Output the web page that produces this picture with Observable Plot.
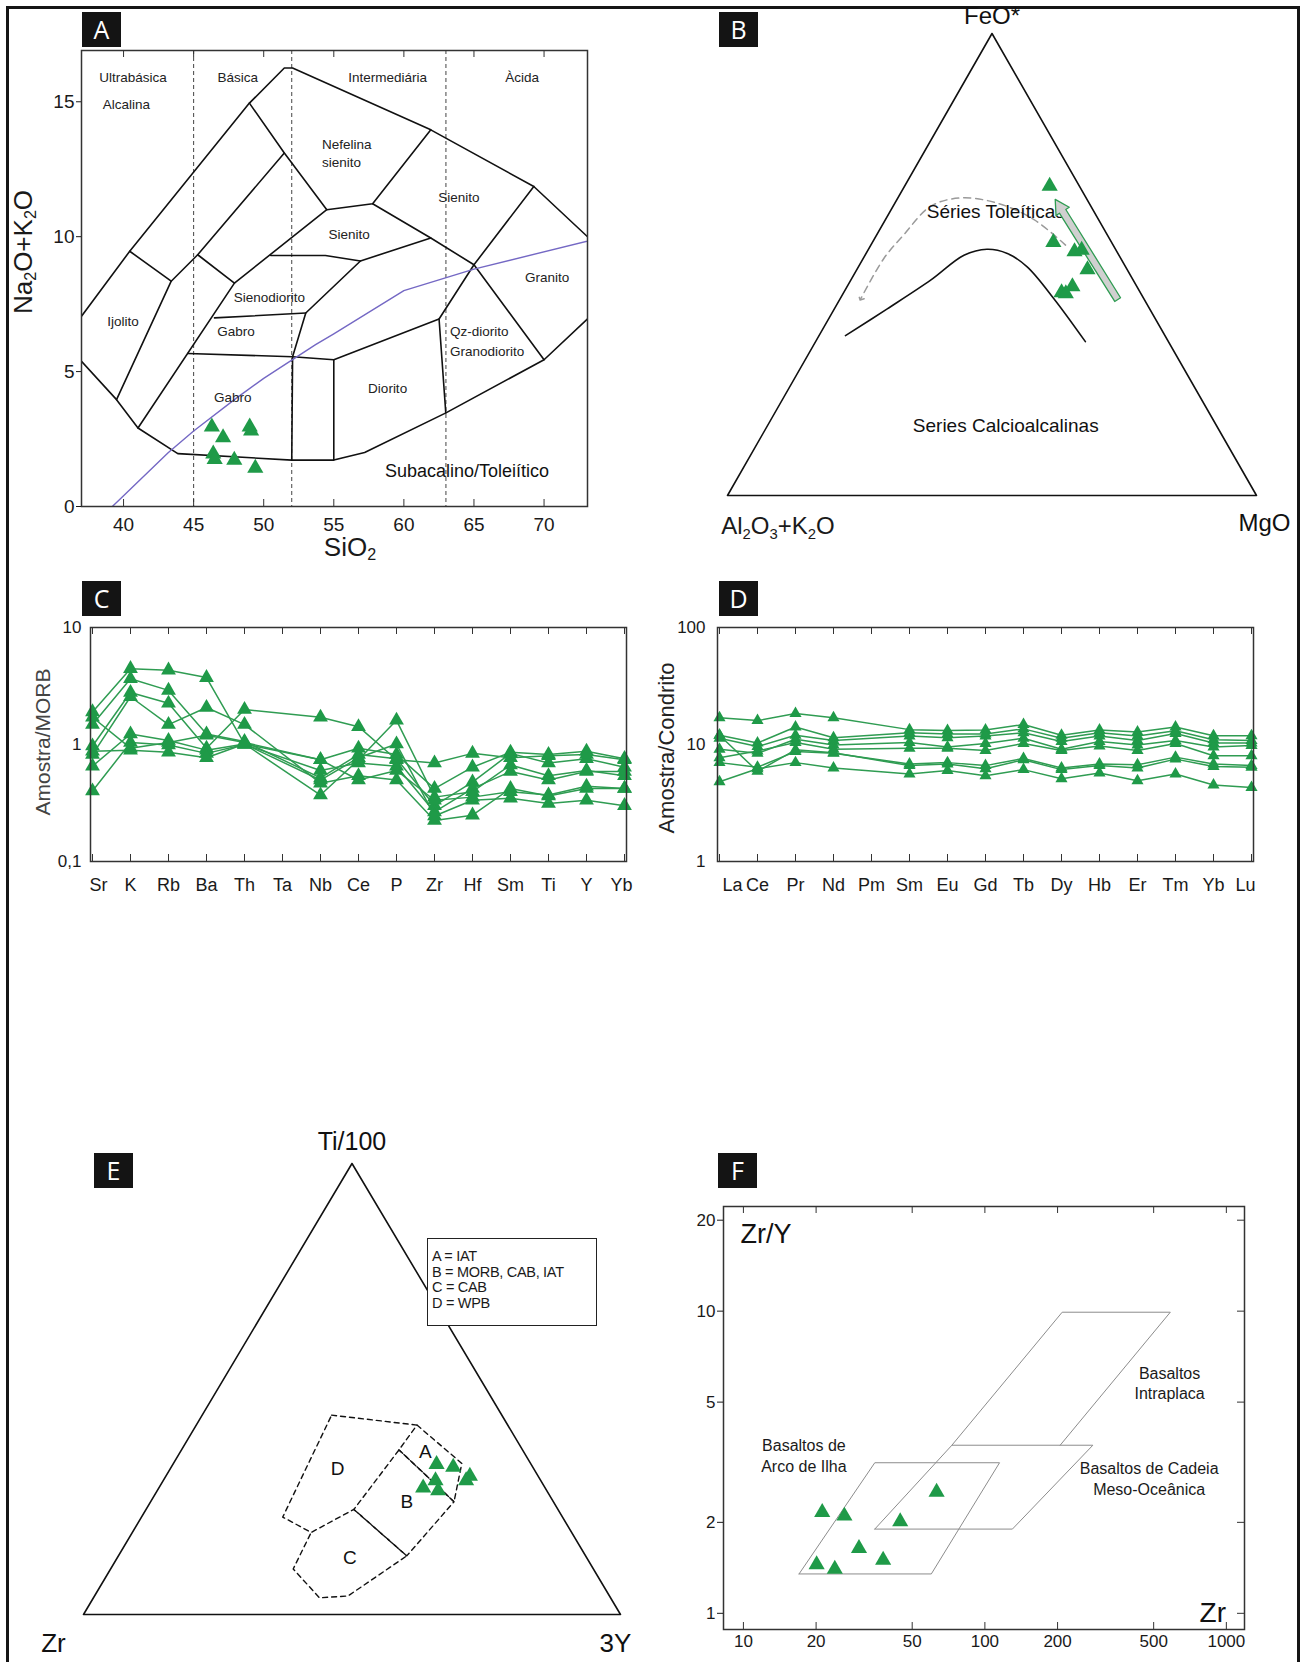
<!DOCTYPE html>
<html><head><meta charset="utf-8">
<script src="https://cdn.jsdelivr.net/npm/d3@7"></script>
<script src="https://cdn.jsdelivr.net/npm/@observablehq/plot@0.6"></script>
<style>
body{margin:0;background:#fff;}
#page{position:relative;width:1304px;height:1662px;overflow:hidden;background:#fff;font-family:'Liberation Sans',Arial,sans-serif;}
#page svg{position:absolute;overflow:visible;}
.tag{position:absolute;background:#141414;color:#fff;font-family:'Open Sans',sans-serif;font-size:25px;width:39px;height:35px;line-height:35px;text-align:center;}
.lbl{position:absolute;white-space:nowrap;color:#1a1a1a;transform:translate(-50%,-50%);line-height:1;}
.lbl sub{font-size:0.62em;vertical-align:-0.28em;}
#border{position:absolute;left:6px;top:6px;width:1288px;height:1700px;border:3px solid #151515;}
#legendE{position:absolute;left:427px;top:1238px;width:170px;height:88px;border:1.5px solid #222;background:#fff;font-size:14.5px;line-height:15.5px;padding:10px 0 0 4px;box-sizing:border-box;color:#1a1a1a;letter-spacing:-0.3px;}
</style></head><body><div id="page"><div id="border"></div></div>
<script>
const FONT = "'Liberation Sans', Arial, sans-serif";
const GREEN = "#1f9a48";
const LGREEN = "#2f9c52";
const page = document.getElementById("page");

// ================= Panel A : TAS =================
const tasTicksX = [40,45,50,55,60,65,70];
const tasTicksY = [0,5,10,15];
const silicaDivisions = [45,52,63];
const tasPolylines = [
 [[37.0,5.38],[39.5,3.96],[41.03,2.91],[43.87,1.96],[52.0,1.72],[55.0,1.72],[57.2,2.0],[63.0,3.47],[70.0,5.44],[73.2,7.0]],
 [[37.0,7.05],[40.44,9.46],[48.98,14.95],[51.47,16.25],[52.06,16.25],[61.92,13.96],[69.27,11.86],[73.2,9.95]],
 [[40.44,9.46],[43.4,8.35],[39.5,3.96]],
 [[43.4,8.35],[45.29,9.33],[51.47,13.1]],
 [[45.29,9.33],[47.91,8.28]],
 [[41.03,2.91],[47.91,8.28],[54.5,11.0]],
 [[48.98,14.95],[51.47,13.1],[54.5,11.0],[57.77,11.22],[61.92,13.96]],
 [[57.77,11.22],[61.92,9.95],[65.0,8.96],[70.0,5.44]],
 [[69.27,11.86],[65.0,8.96],[62.51,6.95],[62.99,3.47]],
 [[50.5,9.3],[54.4,9.3],[56.9,9.1],[61.92,9.95]],
 [[56.9,9.1],[53.0,7.17],[52.06,5.55],[52.0,1.72]],
 [[46.49,6.99],[53.0,7.17]],
 [[44.59,5.67],[52.06,5.55],[55.0,5.44],[62.51,6.95]],
 [[55.0,5.44],[55.0,1.72]]
];
const irvineSiO2 = [39.2,40,43.2,45,48,50,53.7,55,60,65,74.4];
const irvineAlk  = [0,0.4,2,2.8,4,4.75,6,6.4,8,8.8,10];
const tasFieldNames = ["Ultrabásica","Básica","Intermediária","Àcida","Alcalina","Sienito","Sienito","Granito","Diorito","Ijolito","Sienodiorito","Gabro","Gabro"];
const tasFieldX = [40.68,48.14,58.84,68.44,40.2,63.93,56.1,70.22,58.84,39.96,50.4,48.03,47.79];
const tasFieldY = [15.88,15.88,15.88,15.88,14.9,11.43,10.07,8.47,4.36,6.86,7.73,6.49,4.03];
const tasLeftNames = ["Nefelina","sienito","Qz-diorito","Granodiorito"];
const tasLeftX = [54.15,54.15,63.29,63.29];
const tasLeftY = [13.4,12.75,6.49,5.75];
const sampleSiO2 = [46.3,47.1,49.0,49.1,46.4,46.5,47.9,49.4];
const sampleAlk  = [2.95,2.55,2.95,2.8,1.95,1.75,1.72,1.42];

const hA = 456;
const plotA = Plot.plot({
  width:640, height:580, marginLeft:81, marginRight:53, marginTop:50, marginBottom:74,
  x:{domain:[37,73.1]}, y:{domain:[0,16.9]},
  style:{fontFamily:FONT, fontSize:"19px", color:"#1a1a1a", background:"transparent"},
  marks:[
    Plot.ruleX(silicaDivisions,{x:d=>d, stroke:"#444", strokeWidth:1, strokeDasharray:"4,3"}),
    ...tasPolylines.map(pl => Plot.line(pl,{x:d=>d[0], y:d=>d[1], stroke:"#111", strokeWidth:1.6, clip:true})),
    Plot.line(irvineSiO2.map((s,i)=>i),{x:i=>irvineSiO2[i], y:i=>irvineAlk[i], stroke:"#7468c4", strokeWidth:1.4, clip:true}),
    Plot.text(tasFieldNames.map((n,i)=>i),{x:i=>tasFieldX[i], y:i=>tasFieldY[i], text:i=>tasFieldNames[i], fontSize:13.5, fill:"#222"}),
    Plot.text(tasLeftNames.map((n,i)=>i),{x:i=>tasLeftX[i], y:i=>tasLeftY[i], text:i=>tasLeftNames[i], fontSize:13.5, fill:"#222", textAnchor:"start"}),
    Plot.text(["Subacalino/Toleiítico"],{x:()=>64.5, y:()=>1.31, text:d=>d, fontSize:18, fill:"#111"}),
    Plot.dot(sampleSiO2.map((s,i)=>i),{x:i=>sampleSiO2[i], y:i=>sampleAlk[i], symbol:"triangle", r:6, fill:GREEN}),
    Plot.frame({stroke:"#333", strokeWidth:1.5}),
    Plot.tickX(tasTicksX,{x:d=>d, insetTop:hA-7, stroke:"#333"}),
    Plot.tickX(tasTicksX,{x:d=>d, insetBottom:hA-7, stroke:"#333"}),
    Plot.axisX({ticks:tasTicksX, tickSize:0, tickPadding:11, label:null, fontSize:19}),
    Plot.axisY({ticks:tasTicksY, tickSize:5, tickPadding:2, label:null, fontSize:19})
  ]
});
plotA.style.left="0px"; plotA.style.top="0px"; page.appendChild(plotA);

// ================= Panel B : AFM =================
const afmCurveF = [34.6,40.4,46.6,52.0,53.3,52.4,49.5,42.6,33.3];
const afmCurveM = [5.0,10.0,15.1,18.7,22.4,26.7,31.9,40.4,51.0];
const tholTrendF = [54.2,59.7,63.3,64.4,62.6,56.4,51.3,42.6];
const tholTrendM = [36.8,28.1,19.3,11.8,7.1,5.1,3.9,3.9];
const greenArrowF = [42.0,42.8,61.9,62.4,64.1,60.6,61.1,42.0];
const greenArrowM = [52.2,52.9,33.0,33.4,29.9,31.8,32.2,52.2];
const afmSampleF = [67.0,54.8,52.8,53.1,48.9,43.9,45.2,43.7];
const afmSampleM = [27.4,34.2,39.2,40.4,43.6,41.2,42.6,42.1];
const triF = [0,0,100,0];
const triM = [0,100,0,0];
const tx = (F,M) => (M + F/2)/100;
const ty = (F) => F/100;

const plotB = Plot.plot({
  width:664, height:580, marginLeft:87, marginRight:48, marginTop:33, marginBottom:85,
  x:{domain:[0,1], axis:null}, y:{domain:[0,1], axis:null},
  style:{fontFamily:FONT, background:"transparent", color:"#111"},
  marks:[
    Plot.line(triF.map((f,i)=>i),{x:i=>tx(triF[i],triM[i]), y:i=>ty(triF[i]), stroke:"#111", strokeWidth:1.6}),
    Plot.line(tholTrendF.map((f,i)=>i),{x:i=>tx(tholTrendF[i],tholTrendM[i]), y:i=>ty(tholTrendF[i]), stroke:"#9a9a9a", strokeWidth:1.5, strokeDasharray:"7,5", curve:"catmull-rom", markerEnd:"arrow"}),
    Plot.line(afmCurveF.map((f,i)=>i),{x:i=>tx(afmCurveF[i],afmCurveM[i]), y:i=>ty(afmCurveF[i]), stroke:"#111", strokeWidth:1.6, curve:"catmull-rom"}),
    Plot.text(["Séries Toleíticas"],{x:()=>tx(61.4,20.0), y:()=>ty(61.4), text:d=>d, fontSize:19, fill:"#111"}),
    Plot.text(["Series Calcioalcalinas"],{x:()=>tx(15.0,45.1), y:()=>ty(15.0), text:d=>d, fontSize:19, fill:"#111"}),
    Plot.line(greenArrowF.map((f,i)=>i),{x:i=>tx(greenArrowF[i],greenArrowM[i]), y:i=>ty(greenArrowF[i]), stroke:LGREEN, strokeWidth:1.3, fill:"#d0d0d0"}),
    Plot.dot(afmSampleF.map((f,i)=>i),{x:i=>tx(afmSampleF[i],afmSampleM[i]), y:i=>ty(afmSampleF[i]), symbol:"triangle", r:6, fill:GREEN}),
    Plot.text(["FeO*"],{x:()=>tx(100,0), y:()=>ty(100), text:d=>d, dy:-17, fontSize:24, fill:"#111"}),
    Plot.text(["MgO"],{x:()=>tx(0,100), y:()=>ty(0), text:d=>d, dy:28, dx:8, fontSize:24, fill:"#111"})
  ]
});
plotB.style.left="640px"; plotB.style.top="0px"; page.appendChild(plotB);

// helper: category axis with inward ticks and end labels nudged inside the frame
function catAxisMarks(elems, h, firstDx, lastDx){
  const n = elems.length;
  return [
    Plot.frame({stroke:"#333", strokeWidth:1.5}),
    Plot.tickX(elems,{x:d=>d, insetTop:h-7, stroke:"#333"}),
    Plot.tickX(elems,{x:d=>d, insetBottom:h-7, stroke:"#333"}),
    Plot.axisX({ticks:elems.slice(1,n-1), tickSize:0, tickPadding:17, label:null, fontSize:18}),
    Plot.text([elems[0]],{x:d=>d, frameAnchor:"bottom", lineAnchor:"top", dy:17, dx:firstDx, fontSize:18, fill:"#1a1a1a"}),
    Plot.text([elems[n-1]],{x:d=>d, frameAnchor:"bottom", lineAnchor:"top", dy:17, dx:lastDx, fontSize:18, fill:"#1a1a1a"})
  ];
}

// ================= Panel C : MORB spider =================
const spiderElems = ["Sr","K","Rb","Ba","Th","Ta","Nb","Ce","P","Zr","Hf","Sm","Ti","Y","Yb"];
const morbS1 = [1.9,4.45,4.32,3.73,1.01,null,0.74,0.93,0.82,0.42,0.64,0.858,0.82,0.876,0.757];
const morbS2 = [1.48,3.65,2.9,1.23,1.06,null,0.518,0.82,0.757,0.30,0.477,0.84,0.695,0.757,0.64];
const morbS3 = [0.97,2.78,2.25,0.93,1.99,null,1.71,1.42,0.74,0.695,0.84,0.77,0.80,0.82,0.74];
const morbS4 = [0.82,2.56,1.48,2.07,1.48,null,0.467,0.541,0.497,0.224,0.249,0.42,0.363,0.42,0.42];
const morbS5 = [0.653,1.23,1.08,0.895,1.01,null,0.37,0.74,1.61,0.355,0.395,0.667,0.541,0.60,0.541];
const morbS6 = [0.4,1.04,0.99,0.84,1.0,null,0.60,0.695,0.653,0.265,0.42,0.588,0.497,0.588,0.588];
const morbS7 = [0.876,0.895,0.858,0.77,1.01,null,0.497,0.77,1.01,0.245,0.334,0.348,0.313,0.334,0.30];
const morbS8 = [1.71,0.93,1.04,1.20,1.04,null,0.74,0.497,0.60,0.334,0.355,0.395,0.37,0.44,0.42];
const morbSeries = [morbS1,morbS2,morbS3,morbS4,morbS5,morbS6,morbS7,morbS8];
const morbLong = morbSeries.flatMap((s,k)=>s.map((v,i)=>({s:k, el:spiderElems[i], v})).filter(d=>d.v!=null));

const hC = 234;
const plotC = Plot.plot({
  width:650, height:330, marginLeft:90, marginRight:24, marginTop:47, marginBottom:49,
  x:{type:"point", domain:spiderElems, padding:0},
  y:{type:"log", domain:[0.1,10]},
  style:{fontFamily:FONT, fontSize:"18px", color:"#1a1a1a", background:"transparent"},
  marks:[
    Plot.line(morbLong,{x:"el", y:"v", z:"s", stroke:LGREEN, strokeWidth:1.5}),
    Plot.dot(morbLong,{x:"el", y:"v", symbol:"triangle", r:5.5, fill:GREEN}),
    ...catAxisMarks(spiderElems, hC, 6, -3),
    Plot.axisY({ticks:[0.1,1,10], tickFormat:d=> d===0.1 ? "0,1" : String(d), tickSize:0, tickPadding:9, label:null, fontSize:17})
  ]
});
plotC.style.left="0px"; plotC.style.top="580px"; page.appendChild(plotC);

// ================= Panel D : REE =================
const reeElems = ["La","Ce","Pr","Nd","Pm","Sm","Eu","Gd","Tb","Dy","Hb","Er","Tm","Yb","Lu"];
const reeT1 = [16.9,16.0,18.4,16.9,null,13.4,13.2,13.3,14.8,12.0,13.3,12.8,14.1,11.9,11.9];
const reeT2 = [12.0,10.3,14.1,11.4,null,12.6,12.3,12.3,13.6,11.3,12.6,11.8,13.1,11.0,10.8];
const reeT3 = [11.3,9.6,12.0,10.8,null,11.8,11.4,11.8,12.6,10.6,11.8,10.8,12.4,10.3,10.3];
const reeT4 = [9.1,8.4,11.1,9.9,null,10.4,9.5,10.2,11.3,9.1,10.6,9.9,10.8,9.5,9.8];
const reeT5 = [7.7,8.8,10.4,9.1,null,9.3,9.3,8.9,10.2,8.9,9.7,8.9,10.2,8.0,8.0];
const reeT6 = [7.0,6.4,8.7,8.4,null,6.8,7.0,6.6,7.6,6.3,6.8,6.7,7.8,6.8,6.6];
const reeT7 = [12.0,5.9,9.0,8.5,null,6.6,6.8,6.2,7.4,6.1,6.6,6.3,7.5,6.5,6.4];
const reeT8 = [4.8,6.2,7.0,6.3,null,5.6,6.0,5.4,6.1,5.1,5.7,4.9,5.6,4.5,4.3];
const reeSeries = [reeT1,reeT2,reeT3,reeT4,reeT5,reeT6,reeT7,reeT8];
const reeLong = reeSeries.flatMap((s,k)=>s.map((v,i)=>({s:k, el:reeElems[i], v})).filter(d=>d.v!=null));

const plotD = Plot.plot({
  width:654, height:330, marginLeft:67, marginRight:51, marginTop:47, marginBottom:49,
  x:{type:"point", domain:reeElems, padding:0},
  y:{type:"log", domain:[1,100]},
  style:{fontFamily:FONT, fontSize:"18px", color:"#1a1a1a", background:"transparent"},
  marks:[
    Plot.line(reeLong,{x:"el", y:"v", z:"s", stroke:LGREEN, strokeWidth:1.5}),
    Plot.dot(reeLong,{x:"el", y:"v", symbol:"triangle", r:4.5, fill:GREEN}),
    ...catAxisMarks(reeElems, hC, 13, -6),
    Plot.axisY({ticks:[1,10,100], tickFormat:d=>String(d), tickSize:0, tickPadding:12, label:null, fontSize:17})
  ]
});
plotD.style.left="650px"; plotD.style.top="580px"; page.appendChild(plotD);

// ================= Panel E : Ti-Zr-Y =================
const fieldTi = {V1:44.2,V2:42.0,V3:36.5,VA1:33.5,VA2:25.0,V5:23.3,V6:13.0,V7:4.1,V8:3.7,V9:10.1,V10:18.2,V11:21.6};
const fieldY  = {V1:24.1,V2:41.1,V3:40.5,VA1:53.7,VA2:56.5,V5:38.7,V6:53.7,V7:47.2,V8:42.1,V9:34.0,V10:33.3,V11:26.3};
const fieldD = ["V1","V2","V3","V5","V10","V11","V1"];
const fieldA = ["V2","VA1","VA2","V3"];
const fieldB = ["V3","VA2","V6","V5"];
const fieldC = ["V5","V6","V7","V8","V9","V10"];
const fieldLetters = ["A","B","C","D"];
const fieldLetterTi = [36.1,25.0,12.6,32.2];
const fieldLetterY  = [45.6,47.7,43.3,31.2];
const tizrySampleTi = [33.3,32.7,30.7,29.7,29.7,28.1,27.5];
const tizrySampleY  = [49.1,52.5,56.6,56.4,50.7,49.2,52.3];
const ex = (Ti,Y) => (Y + Ti/2)/100;

const plotE = Plot.plot({
  width:650, height:622, marginLeft:83, marginRight:30, marginTop:123, marginBottom:48,
  x:{domain:[0,1], axis:null}, y:{domain:[0,1], axis:null},
  style:{fontFamily:FONT, background:"transparent", color:"#111"},
  marks:[
    Plot.line(triF.map((f,i)=>i),{x:i=>ex(triF[i],triM[i]), y:i=>triF[i]/100, stroke:"#111", strokeWidth:1.6}),
    ...[fieldD,fieldA,fieldB,fieldC].map(f => Plot.line(f,{x:v=>ex(fieldTi[v],fieldY[v]), y:v=>fieldTi[v]/100, stroke:"#111", strokeWidth:1.4, strokeDasharray:"5,4"})),
    Plot.text(fieldLetters.map((l,i)=>i),{x:i=>ex(fieldLetterTi[i],fieldLetterY[i]), y:i=>fieldLetterTi[i]/100, text:i=>fieldLetters[i], fontSize:19, fill:"#111"}),
    Plot.dot(tizrySampleTi.map((t,i)=>i),{x:i=>ex(tizrySampleTi[i],tizrySampleY[i]), y:i=>tizrySampleTi[i]/100, symbol:"triangle", r:6, fill:GREEN}),
    Plot.text(["Ti/100"],{x:()=>0.5, y:()=>1, text:d=>d, dy:-22, fontSize:25, fill:"#111"}),
    Plot.text(["Zr"],{x:()=>0, y:()=>0, text:d=>d, dy:29, dx:-30, fontSize:26, fill:"#111"}),
    Plot.text(["3Y"],{x:()=>1, y:()=>0, text:d=>d, dy:29, dx:-5, fontSize:26, fill:"#111"})
  ]
});
plotE.style.left="0px"; plotE.style.top="1040px"; page.appendChild(plotE);

// ================= Panel F : Zr/Y vs Zr =================
const fTicksX = [10,20,50,100,200,500,1000];
const fTicksY = [1,2,5,10,20];
const iabZr = [17,60,115,35,17];
const iabZrY = [1.35,1.35,3.15,3.15,1.35];
const morbZr = [35,130,280,73,35];
const morbZrY = [1.9,1.9,3.6,3.6,1.9];
const wpbZr = [73,209,586,205];
const wpbZrY = [3.6,9.92,9.92,3.6];
const basaltSampleZr = [21.2,26.2,44.6,63.1,30.1,37.9,20.1,23.9];
const basaltSampleZrY = [2.16,2.10,2.01,2.52,1.64,1.50,1.45,1.40];
const fLabelText = ["Basaltos","Intraplaca","Basaltos de","Arco de Ilha","Basaltos de Cadeia","Meso-Oceânica"];
const fLabelZr = [582,582,17.8,17.8,479,479];
const fLabelZrY = [6.2,5.33,3.58,3.06,3.0,2.57];
const hF = 423, wF = 521;

const plotF = Plot.plot({
  width:654, height:622, marginLeft:73, marginRight:60, marginTop:166, marginBottom:33,
  x:{type:"log", domain:[8.27,1189]}, y:{type:"log", domain:[0.884,22.2]},
  style:{fontFamily:FONT, fontSize:"17px", color:"#1a1a1a", background:"transparent"},
  marks:[
    Plot.line(iabZr.map((z,i)=>i),{x:i=>iabZr[i], y:i=>iabZrY[i], stroke:"#8c8c8c", strokeWidth:1}),
    Plot.line(morbZr.map((z,i)=>i),{x:i=>morbZr[i], y:i=>morbZrY[i], stroke:"#8c8c8c", strokeWidth:1}),
    Plot.line(wpbZr.map((z,i)=>i),{x:i=>wpbZr[i], y:i=>wpbZrY[i], stroke:"#8c8c8c", strokeWidth:1}),
    Plot.text(fLabelText.map((t,i)=>i),{x:i=>fLabelZr[i], y:i=>fLabelZrY[i], text:i=>fLabelText[i], fontSize:16, fill:"#1a1a1a"}),
    Plot.text(["Zr/Y"],{x:()=>12.4, y:()=>18.0, text:d=>d, fontSize:27, fill:"#111"}),
    Plot.text(["Zr"],{x:()=>879, y:()=>1.0, text:d=>d, fontSize:28, fill:"#111"}),
    Plot.dot(basaltSampleZr.map((z,i)=>i),{x:i=>basaltSampleZr[i], y:i=>basaltSampleZrY[i], symbol:"triangle", r:6, fill:GREEN}),
    Plot.frame({stroke:"#333", strokeWidth:1.5}),
    Plot.tickX(fTicksX,{x:d=>d, insetTop:hF-7, stroke:"#333"}),
    Plot.tickX(fTicksX,{x:d=>d, insetBottom:hF-7, stroke:"#333"}),
    Plot.tickY(fTicksY,{y:d=>d, insetLeft:wF-7, stroke:"#333"}),
    Plot.axisX({ticks:fTicksX, tickFormat:d=>String(d), tickSize:0, tickPadding:5, label:null, fontSize:17}),
    Plot.axisY({ticks:fTicksY, tickFormat:d=>String(d), tickSize:6, tickPadding:2, label:null, fontSize:17})
  ]
});
plotF.style.left="650px"; plotF.style.top="1040px"; page.appendChild(plotF);

// ================= overlays =================
function lbl(html, x, y, size, extra){
  const d = document.createElement("div");
  d.className = "lbl"; d.innerHTML = html;
  d.style.left = x+"px"; d.style.top = y+"px"; d.style.fontSize = size+"px";
  if (extra) Object.assign(d.style, extra);
  page.appendChild(d);
}
lbl("Na<sub>2</sub>O+K<sub>2</sub>O", 24, 252, 26, {transform:"translate(-50%,-50%) rotate(-90deg)"});
lbl("SiO<sub>2</sub>", 350, 548, 26);
lbl("Al<sub>2</sub>O<sub>3</sub>+K<sub>2</sub>O", 778, 528, 24);
lbl("Amostra/MORB", 42, 742, 21, {transform:"translate(-50%,-50%) rotate(-90deg)", color:"#444"});
lbl("Amostra/Condrito", 667, 748, 22, {transform:"translate(-50%,-50%) rotate(-90deg)", color:"#222"});

const leg = document.createElement("div");
leg.id = "legendE";
leg.innerHTML = ["A = IAT","B = MORB, CAB, IAT","C = CAB","D = WPB"].join("<br>");
page.appendChild(leg);

const tags = [["A",82,12],["B",719,12],["C",82,581],["D",719,581],["E",94,1153],["F",718,1153]];
tags.forEach(([t,x,y])=>{
  const d = document.createElement("div");
  d.className="tag"; d.textContent=t; d.style.left=x+"px"; d.style.top=y+"px";
  page.appendChild(d);
});
</script></body></html>
